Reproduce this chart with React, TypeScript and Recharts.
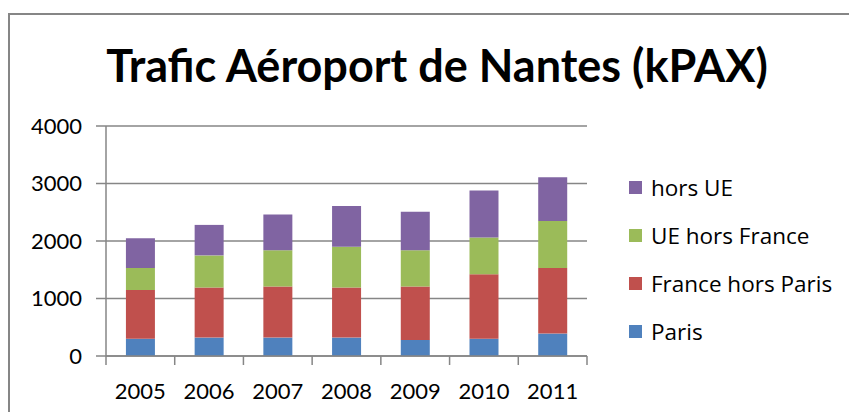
import React from 'react';
import { BarChart, Bar, XAxis, YAxis, CartesianGrid } from 'recharts';

const years = ['2005', '2006', '2007', '2008', '2009', '2010', '2011'];
const paris = [300, 320, 320, 320, 280, 300, 390];
const franceHorsParis = [850, 870, 890, 870, 930, 1120, 1140];
const ueHorsFrance = [380, 560, 630, 710, 630, 640, 820];
const horsUE = [520, 530, 620, 710, 670, 820, 760];
const yTicks = [0, 1000, 2000, 3000, 4000];

const series = [
  { key: 'paris', name: 'Paris', color: '#4F81BD' },
  { key: 'franceHorsParis', name: 'France hors Paris', color: '#C0504D' },
  { key: 'ueHorsFrance', name: 'UE hors France', color: '#9BBB59' },
  { key: 'horsUE', name: 'hors UE', color: '#8064A2' },
];

const data = years.map((year, i) => ({
  year,
  paris: paris[i],
  franceHorsParis: franceHorsParis[i],
  ueHorsFrance: ueHorsFrance[i],
  horsUE: horsUE[i],
}));

const FONT = 'Lato, "Open Sans", sans-serif';
const LEGEND_FONT = '"Open Sans", Lato, sans-serif';
const AXIS = '#868686';

// Excel-style category ticks: tick marks sit between the bars
const YearTick = (props: any) => {
  const { x, y, payload, index, visibleTicksCount } = props;
  const half = payload.offset ?? 0;
  const axisY = y - 8;
  return (
    <g>
      <line x1={x - half} y1={axisY} x2={x - half} y2={axisY + 9} stroke={AXIS} strokeWidth={1.5} />
      {index === visibleTicksCount - 1 && (
        <line x1={x + half} y1={axisY} x2={x + half} y2={axisY + 9} stroke={AXIS} strokeWidth={1.5} />
      )}
      <text x={x} y={axisY + 43} textAnchor="middle" fill="#000" fontSize={22} fontFamily={FONT}>
        {payload.value}
      </text>
    </g>
  );
};

const LegendBox = () => (
  <div style={{ fontFamily: LEGEND_FONT, fontSize: 22.5, color: '#000' }}>
    {[...series].reverse().map((s) => (
      <div key={s.key} style={{ display: 'flex', alignItems: 'center', height: 48 }}>
        <span style={{ display: 'inline-block', width: 13, height: 13, background: s.color, marginRight: 9 }} />
        <span>{s.name}</span>
      </div>
    ))}
  </div>
);

export default function App() {
  return (
    <div style={{ position: 'absolute', left: 0, top: 0, width: 849, height: 412, overflow: 'hidden', background: '#fff' }}>
      <div style={{ position: 'absolute', left: 8, top: 13, width: 1000, height: 600, border: `2px solid ${AXIS}` }} />
      <div
        style={{
          position: 'absolute', left: 0, top: 37, width: 874, textAlign: 'center',
          fontFamily: FONT, fontWeight: 700, fontSize: 45, color: '#000', lineHeight: '56px',
        }}
      >
        Trafic Aéroport de Nantes (kPAX)
      </div>
      <div style={{ position: 'absolute', left: 0, top: 0 }}>
        <BarChart width={849} height={412} data={data} margin={{ top: 126, right: 262, left: 0, bottom: 0 }} barCategoryGap="29%">
          <CartesianGrid vertical={false} stroke={AXIS} strokeWidth={1.5} />
          <XAxis
            dataKey="year"
            height={56}
            tickLine={false}
            tickSize={0}
            tickMargin={8}
            axisLine={{ stroke: AXIS, strokeWidth: 1.5 }}
            tick={<YearTick />}
            interval={0}
          />
          <YAxis
            width={106}
            domain={[0, 4000]}
            ticks={yTicks}
            tickSize={10}
            tickMargin={14}
            tickLine={{ stroke: AXIS, strokeWidth: 1.5 }}
            axisLine={{ stroke: AXIS, strokeWidth: 1.5 }}
            tick={{ fill: '#000', fontSize: 22, fontFamily: FONT }}
          />
          {series.map((s) => (
            <Bar key={s.key} dataKey={s.key} name={s.name} stackId="a" fill={s.color} isAnimationActive={false} />
          ))}
        </BarChart>
      </div>
      <div style={{ position: 'absolute', left: 629, top: 163, width: 220 }}>
        <LegendBox />
      </div>
    </div>
  );
}
